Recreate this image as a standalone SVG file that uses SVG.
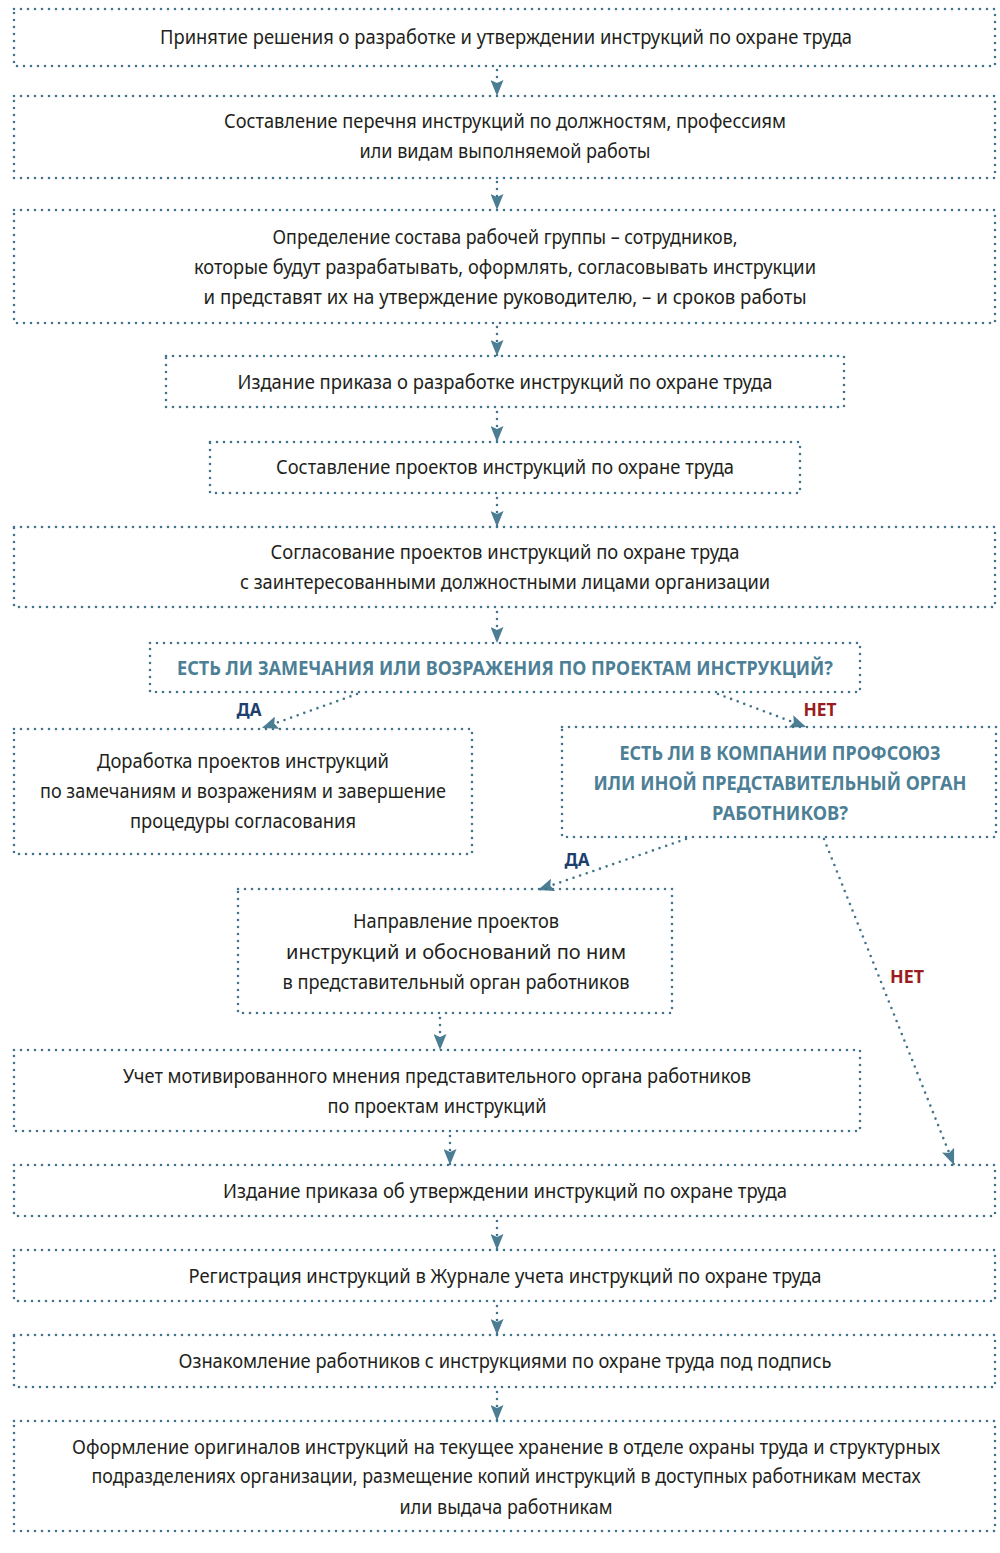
<svg xmlns="http://www.w3.org/2000/svg" width="1000" height="1553" viewBox="0 0 1000 1553">
<defs>
<style>
.box{fill:none;stroke:#41738b;stroke-width:2.6;stroke-dasharray:0 7;stroke-linecap:round}
.con{fill:none;stroke:#41738b;stroke-width:2.6;stroke-dasharray:0 7;stroke-linecap:round}
.t{font-family:"Noto Sans","Open Sans","DejaVu Sans",sans-serif;font-size:19.5px;fill:#231f20;text-anchor:middle}
.q{font-family:"Noto Sans","Open Sans","DejaVu Sans",sans-serif;font-size:19.5px;font-weight:bold;fill:#4d7f96;text-anchor:middle}
.yes{font-family:"Noto Sans","Open Sans","DejaVu Sans",sans-serif;font-size:18px;font-weight:bold;fill:#1d3f6e;text-anchor:middle}
.no{font-family:"Noto Sans","Open Sans","DejaVu Sans",sans-serif;font-size:18px;font-weight:bold;fill:#9b1c20;text-anchor:middle}
</style>
<marker id="ah" viewBox="0 0 16 13" refX="16" refY="6.5" markerWidth="16" markerHeight="13" markerUnits="userSpaceOnUse" orient="auto">
<path d="M0,0 L16,6.5 L0,13 L3,6.5 z" fill="#4b7d93"/>
</marker>
</defs>
<rect width="1000" height="1553" fill="#ffffff"/>

<g id="connectors">
<line class="con" x1="497" y1="70" x2="497" y2="96" marker-end="url(#ah)"/>
<line class="con" x1="497" y1="182" x2="497" y2="210" marker-end="url(#ah)"/>
<line class="con" x1="497" y1="327" x2="497" y2="356" marker-end="url(#ah)"/>
<line class="con" x1="497" y1="412" x2="497" y2="442" marker-end="url(#ah)"/>
<line class="con" x1="497" y1="498" x2="497" y2="527" marker-end="url(#ah)"/>
<line class="con" x1="497" y1="612" x2="497" y2="643" marker-end="url(#ah)"/>
<line class="con" x1="357" y1="694" x2="262" y2="728" marker-end="url(#ah)"/>
<line class="con" x1="718" y1="694" x2="806" y2="727" marker-end="url(#ah)"/>
<line class="con" x1="686" y1="839" x2="538" y2="890" marker-end="url(#ah)"/>
<line class="con" x1="824" y1="839" x2="954" y2="1165" marker-end="url(#ah)"/>
<line class="con" x1="440" y1="1018" x2="440" y2="1050" marker-end="url(#ah)"/>
<line class="con" x1="450" y1="1136" x2="450" y2="1165" marker-end="url(#ah)"/>
<line class="con" x1="497" y1="1221" x2="497" y2="1250" marker-end="url(#ah)"/>
<line class="con" x1="497" y1="1306" x2="497" y2="1335" marker-end="url(#ah)"/>
<line class="con" x1="497" y1="1392" x2="497" y2="1421" marker-end="url(#ah)"/>
<text class="yes" x="249" y="716" textLength="25" lengthAdjust="spacingAndGlyphs">ДА</text>
<text class="no" x="820" y="716" textLength="33" lengthAdjust="spacingAndGlyphs">НЕТ</text>
<text class="yes" x="577" y="866" textLength="25" lengthAdjust="spacingAndGlyphs">ДА</text>
<text class="no" x="907" y="983" textLength="34" lengthAdjust="spacingAndGlyphs">НЕТ</text>
</g>

<g id="n1">
<rect class="box" x="14" y="9" width="981" height="57"/>
<text class="t" x="506" y="44" textLength="692" lengthAdjust="spacingAndGlyphs">Принятие решения о разработке и утверждении инструкций по охране труда</text>
</g>
<g id="n2">
<rect class="box" x="14" y="96" width="981" height="82"/>
<text class="t" x="505" y="128" textLength="562" lengthAdjust="spacingAndGlyphs">Составление перечня инструкций по должностям, профессиям</text>
<text class="t" x="505" y="158" textLength="291" lengthAdjust="spacingAndGlyphs">или видам выполняемой работы</text>
</g>
<g id="n3">
<rect class="box" x="14" y="210" width="981" height="113"/>
<text class="t" x="505" y="244" textLength="465" lengthAdjust="spacingAndGlyphs">Определение состава рабочей группы – сотрудников,</text>
<text class="t" x="505" y="274" textLength="622" lengthAdjust="spacingAndGlyphs">которые будут разрабатывать, оформлять, согласовывать инструкции</text>
<text class="t" x="505" y="304" textLength="603" lengthAdjust="spacingAndGlyphs">и представят их на утверждение руководителю, – и сроков работы</text>
</g>
<g id="n4">
<rect class="box" x="166" y="356" width="678" height="51"/>
<text class="t" x="505" y="389" textLength="535" lengthAdjust="spacingAndGlyphs">Издание приказа о разработке инструкций по охране труда</text>
</g>
<g id="n5">
<rect class="box" x="210" y="442" width="590" height="51"/>
<text class="t" x="505" y="474" textLength="458" lengthAdjust="spacingAndGlyphs">Составление проектов инструкций по охране труда</text>
</g>
<g id="n6">
<rect class="box" x="14" y="527" width="981" height="80"/>
<text class="t" x="505" y="559" textLength="469" lengthAdjust="spacingAndGlyphs">Согласование проектов инструкций по охране труда</text>
<text class="t" x="505" y="589" textLength="530" lengthAdjust="spacingAndGlyphs">с заинтересованными должностными лицами организации</text>
</g>
<g id="d1">
<rect class="box" x="150" y="643" width="710" height="49"/>
<text class="q" x="505" y="675" textLength="656" lengthAdjust="spacingAndGlyphs">ЕСТЬ ЛИ ЗАМЕЧАНИЯ ИЛИ ВОЗРАЖЕНИЯ ПО ПРОЕКТАМ ИНСТРУКЦИЙ?</text>
</g>
<g id="n7">
<rect class="box" x="14" y="729" width="458" height="125"/>
<text class="t" x="243" y="768" textLength="292" lengthAdjust="spacingAndGlyphs">Доработка проектов инструкций</text>
<text class="t" x="243" y="798" textLength="406" lengthAdjust="spacingAndGlyphs">по замечаниям и возражениям и завершение</text>
<text class="t" x="243" y="828" textLength="226" lengthAdjust="spacingAndGlyphs">процедуры согласования</text>
</g>
<g id="d2">
<rect class="box" x="562" y="727" width="434" height="110"/>
<text class="q" x="780" y="760" textLength="321" lengthAdjust="spacingAndGlyphs">ЕСТЬ ЛИ В КОМПАНИИ ПРОФСОЮЗ</text>
<text class="q" x="780" y="790" textLength="373" lengthAdjust="spacingAndGlyphs">ИЛИ ИНОЙ ПРЕДСТАВИТЕЛЬНЫЙ ОРГАН</text>
<text class="q" x="780" y="820" textLength="136" lengthAdjust="spacingAndGlyphs">РАБОТНИКОВ?</text>
</g>
<g id="n8">
<rect class="box" x="238" y="889" width="434" height="124"/>
<text class="t" x="456" y="928" textLength="206" lengthAdjust="spacingAndGlyphs">Направление проектов</text>
<text class="t" x="456" y="959" textLength="340" lengthAdjust="spacingAndGlyphs">инструкций и обоснований по ним</text>
<text class="t" x="456" y="989" textLength="347" lengthAdjust="spacingAndGlyphs">в представительный орган работников</text>
</g>
<g id="n9">
<rect class="box" x="14" y="1050" width="846" height="81"/>
<text class="t" x="437" y="1083" textLength="628" lengthAdjust="spacingAndGlyphs">Учет мотивированного мнения представительного органа работников</text>
<text class="t" x="437" y="1113" textLength="219" lengthAdjust="spacingAndGlyphs">по проектам инструкций</text>
</g>
<g id="n10">
<rect class="box" x="14" y="1165" width="981" height="51"/>
<text class="t" x="505" y="1198" textLength="564" lengthAdjust="spacingAndGlyphs">Издание приказа об утверждении инструкций по охране труда</text>
</g>
<g id="n11">
<rect class="box" x="14" y="1250" width="981" height="51"/>
<text class="t" x="505" y="1283" textLength="633" lengthAdjust="spacingAndGlyphs">Регистрация инструкций в Журнале учета инструкций по охране труда</text>
</g>
<g id="n12">
<rect class="box" x="14" y="1335" width="981" height="52"/>
<text class="t" x="505" y="1368" textLength="653" lengthAdjust="spacingAndGlyphs">Ознакомление работников с инструкциями по охране труда под подпись</text>
</g>
<g id="n13">
<rect class="box" x="14" y="1421" width="981" height="110"/>
<text class="t" x="506" y="1454" textLength="868" lengthAdjust="spacingAndGlyphs">Оформление оригиналов инструкций на текущее хранение в отделе охраны труда и структурных</text>
<text class="t" x="506" y="1483" textLength="829" lengthAdjust="spacingAndGlyphs">подразделениях организации, размещение копий инструкций в доступных работникам местах</text>
<text class="t" x="506" y="1514" textLength="213" lengthAdjust="spacingAndGlyphs">или выдача работникам</text>
</g>
</svg>
